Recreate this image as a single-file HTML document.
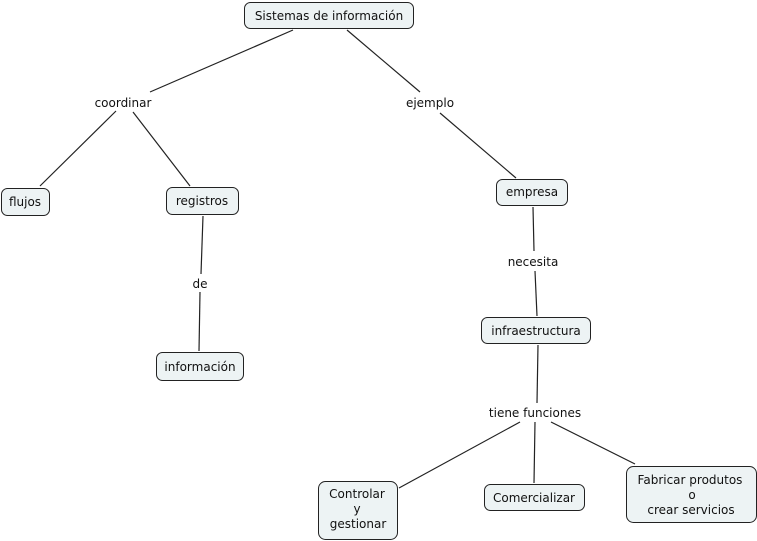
<!DOCTYPE html>
<html><head><meta charset="utf-8"><style>
html,body{margin:0;padding:0;background:#fff;}
svg{display:block;}
text{font-family:"DejaVu Sans","Liberation Sans",sans-serif;font-size:12px;fill:#111;}
rect{fill:#edf3f4;stroke:#222;stroke-width:1;}
line{stroke:#222;stroke-width:1.2;}
</style></head><body>
<svg width="757" height="541" viewBox="0 0 757 541" xmlns="http://www.w3.org/2000/svg">
<line x1="293" y1="30" x2="150" y2="92"/>
<line x1="116" y1="111" x2="40" y2="186"/>
<line x1="133" y1="112" x2="190" y2="186"/>
<line x1="347" y1="30" x2="420" y2="92"/>
<line x1="440" y1="113" x2="516" y2="178"/>
<line x1="203" y1="216" x2="201" y2="274"/>
<line x1="200" y1="292" x2="199" y2="351"/>
<line x1="533" y1="207" x2="534" y2="251"/>
<line x1="535" y1="271" x2="537" y2="316"/>
<line x1="538" y1="345" x2="537" y2="403"/>
<line x1="520" y1="422" x2="399" y2="488"/>
<line x1="535" y1="422" x2="534" y2="483"/>
<line x1="551" y1="422" x2="635" y2="464"/>
<rect x="244.5" y="2.5" width="169" height="26" rx="6"/>
<text x="329" y="20" text-anchor="middle">Sistemas de información</text>
<rect x="1.5" y="188.5" width="48" height="27" rx="6"/>
<text x="25" y="206" text-anchor="middle">flujos</text>
<rect x="166.5" y="187.5" width="72" height="27" rx="6"/>
<text x="202" y="205" text-anchor="middle">registros</text>
<rect x="156.5" y="352.5" width="87" height="28" rx="6"/>
<text x="200" y="371" text-anchor="middle">información</text>
<rect x="496.5" y="179.5" width="71" height="26" rx="6"/>
<text x="532" y="196" text-anchor="middle">empresa</text>
<rect x="481.5" y="317.5" width="109" height="26" rx="6"/>
<text x="536" y="335" text-anchor="middle">infraestructura</text>
<rect x="318.5" y="481.5" width="79" height="58" rx="7"/>
<text x="357" y="498" text-anchor="middle">Controlar</text>
<text x="357" y="513" text-anchor="middle">y</text>
<text x="358" y="528" text-anchor="middle">gestionar</text>
<rect x="484.5" y="484.5" width="100" height="26" rx="6"/>
<text x="534" y="502" text-anchor="middle">Comercializar</text>
<rect x="626.5" y="466.5" width="130" height="56" rx="7"/>
<text x="690" y="484" text-anchor="middle">Fabricar produtos</text>
<text x="692" y="499" text-anchor="middle">o</text>
<text x="691" y="514" text-anchor="middle">crear servicios</text>
<text x="123" y="107" text-anchor="middle">coordinar</text>
<text x="430" y="107" text-anchor="middle">ejemplo</text>
<text x="200" y="288" text-anchor="middle">de</text>
<text x="533" y="266" text-anchor="middle">necesita</text>
<text x="535" y="417" text-anchor="middle">tiene funciones</text>
</svg>
</body></html>
